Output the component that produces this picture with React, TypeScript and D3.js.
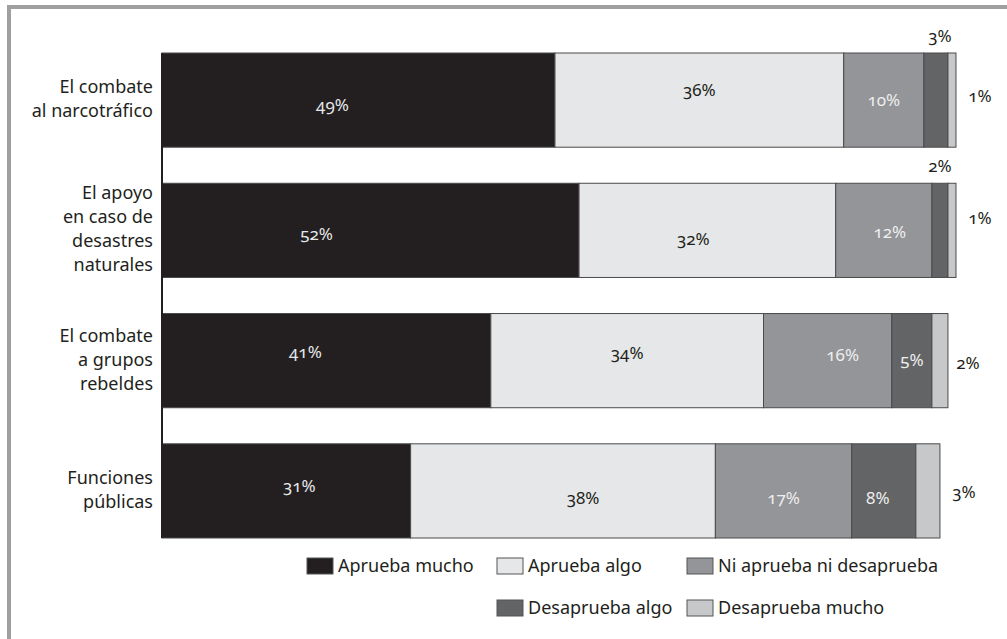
import React from "react";
import * as d3 from "d3";

// ---- Data ----
const categories = [
  "El combate\nal narcotráfico",
  "El apoyo\nen caso de\ndesastres\nnaturales",
  "El combate\na grupos\nrebeldes",
  "Funciones\npúblicas",
];
const seriesNames = [
  "Aprueba mucho",
  "Aprueba algo",
  "Ni aprueba ni desaprueba",
  "Desaprueba algo",
  "Desaprueba mucho",
];
const apruebaMucho = [49, 52, 41, 31];
const apruebaAlgo = [36, 32, 34, 38];
const niApruebaNiDesaprueba = [10, 12, 16, 17];
const desapruebaAlgo = [3, 2, 5, 8];
const desapruebaMucho = [1, 1, 2, 3];

// ---- Styles ----
const COLORS = ["#231f20", "#e6e7e8", "#939598", "#636466", "#c7c8ca"];
const TEXT_ON = ["#e6e7e8", "#231f20", "#eeeeee", "#eeeeee", "#231f20"];
const FONT = "'Noto Sans', 'Open Sans', sans-serif";

// per-label nudges (row x series), relative to computed anchor
const NUDGE: [number, number][][] = [
  [[-26, 5], [0, -10], [0, 0], [4, 0], [0, -4]],
  [[-54, 4], [-14, 9], [6, 2], [0, 1], [0, -12]],
  [[-21, -9], [0, -8], [15, -6], [0, -1], [-4, 2]],
  [[13, -5], [20, 7], [0, 7], [-6, 7], [0, 1]],
];

const W = 1007;
const H = 639;

export default function App() {
  const table = categories.map((c, i) => ({
    cat: c,
    [seriesNames[0]]: apruebaMucho[i],
    [seriesNames[1]]: apruebaAlgo[i],
    [seriesNames[2]]: niApruebaNiDesaprueba[i],
    [seriesNames[3]]: desapruebaAlgo[i],
    [seriesNames[4]]: desapruebaMucho[i],
  }));
  const stacked = d3.stack<any>().keys(seriesNames)(table);

  const x = d3.scaleLinear().domain([0, 100]).range([162, 964]);
  const y = d3
    .scaleBand<string>()
    .domain(categories)
    .range([53, 538])
    .paddingInner(36 / 130)
    .paddingOuter(0);
  const bw = y.bandwidth();

  const legendPos = [
    [0, 0],
    [0, 1],
    [0, 2],
    [1, 1],
    [1, 2],
  ];
  const legendX = [307, 497, 687];
  const legendY = [558, 600];

  return (
    <svg
      width={W}
      height={H}
      style={{ position: "absolute", left: 0, top: 0, display: "block", background: "#fff" }}
      fontFamily={FONT}
    >
      {/* frame */}
      <line x1={7} x2={W} y1={7} y2={7} stroke="#a0a0a0" strokeWidth={4} />
      <line x1={9} x2={9} y1={5} y2={H} stroke="#a0a0a0" strokeWidth={4} />

      {/* bars */}
      {stacked.map((s, si) => (
        <g key={s.key}>
          {s.map((d, ri) => (
            <rect
              key={ri}
              x={x(d[0])}
              y={y(categories[ri])!}
              width={x(d[1]) - x(d[0])}
              height={bw}
              fill={COLORS[si]}
              stroke="#4a4a4a"
              strokeWidth={1}
            />
          ))}
        </g>
      ))}

      {/* axis line */}
      <line
        x1={162}
        x2={162}
        y1={y(categories[0])!}
        y2={y(categories[categories.length - 1])! + bw}
        stroke="#231f20"
        strokeWidth={2}
      />

      {/* value labels */}
      {stacked.map((s, si) =>
        s.map((d, ri) => {
          const v = d[1] - d[0];
          const top = y(categories[ri])!;
          const cy = top + bw / 2;
          const [dx, dy] = NUDGE[ri][si];
          let tx: number, ty: number, fill: string;
          if (si === 4) {
            tx = x(d[1]) + 24 + dx;
            ty = cy + dy + 6;
            fill = "#231f20";
          } else if (si === 3 && v < 5) {
            tx = (x(d[0]) + x(d[1])) / 2 + dx;
            ty = top - 11;
            fill = "#231f20";
          } else {
            tx = (x(d[0]) + x(d[1])) / 2 + dx;
            ty = cy + dy + 6;
            fill = TEXT_ON[si];
          }
          return (
            <text
              key={`${si}-${ri}`}
              x={tx}
              y={ty}
              textAnchor="middle"
              fontSize={17}
              fill={fill}
              style={{ fontVariantNumeric: "oldstyle-nums" }}
            >
              {`${v}%`}
            </text>
          );
        })
      )}

      {/* category labels */}
      {categories.map((c) => {
        const lines = c.split("\n");
        const cy = y(c)! + bw / 2;
        return (
          <text key={c} textAnchor="end" fontSize={18} fill="#231f20">
            {lines.map((ln, i) => (
              <tspan key={i} x={153} y={cy + (i - (lines.length - 1) / 2) * 24 + 5}>
                {ln}
              </tspan>
            ))}
          </text>
        );
      })}

      {/* legend */}
      {seriesNames.map((n, i) => {
        const [r, c] = legendPos[i];
        const lx = legendX[c];
        const ly = legendY[r];
        return (
          <g key={n}>
            <rect x={lx} y={ly} width={26} height={16} fill={COLORS[i]} stroke="#555" strokeWidth={1} />
            <text x={lx + 31} y={ly + 14} fontSize={18} fill="#231f20">
              {n}
            </text>
          </g>
        );
      })}
    </svg>
  );
}
